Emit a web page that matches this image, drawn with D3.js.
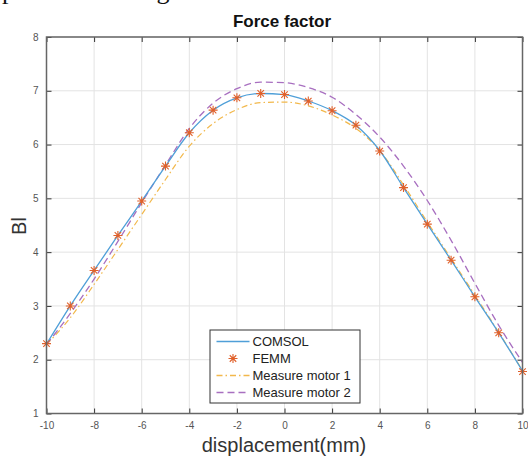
<!DOCTYPE html>
<html><head><meta charset="utf-8">
<script src="https://cdn.jsdelivr.net/npm/d3@7"></script>
<style>
html,body{margin:0;padding:0;background:#fff;}
svg{display:block;}
</style></head>
<body>
<script>
const xValues = [-10,-9,-8,-7,-6,-5,-4,-3,-2,-1,0,1,2,3,4,5,6,7,8,9,10];
const comsol = [2.29,3.0,3.66,4.31,4.95,5.60,6.22,6.64,6.87,6.95,6.93,6.81,6.63,6.36,5.89,5.20,4.52,3.85,3.17,2.50,1.79];
const femm   = [2.30,3.0,3.66,4.31,4.95,5.60,6.22,6.64,6.87,6.95,6.93,6.81,6.63,6.36,5.88,5.20,4.52,3.85,3.17,2.50,1.78];
const motor1 = [2.28,2.78,3.40,4.05,4.70,5.35,5.97,6.39,6.65,6.78,6.79,6.72,6.55,6.30,5.89,5.25,4.56,3.88,3.20,2.51,1.80];
const motor2 = [2.28,2.86,3.50,4.20,4.92,5.62,6.30,6.77,7.04,7.16,7.15,7.06,6.88,6.56,6.14,5.60,4.96,4.22,3.42,2.64,1.95];
const xTicks = [-10,-8,-6,-4,-2,0,2,4,6,8,10];
const yTicks = [1,2,3,4,5,6,7,8];
const seriesNames = ["COMSOL","FEMM","Measure motor 1","Measure motor 2"];

const W = 528, H = 459;
const m = {left:46.5, right:5.5, top:37, bottom:45.5};
const svg = d3.select("body").append("svg").attr("width",W).attr("height",H);

// clipped text at top of page (only its lower edge shows, as in the source)
svg.append("text").attr("x",2).attr("y",-1)
  .attr("font-family","Liberation Serif, Times New Roman, serif").attr("font-size",26)
  .attr("fill","#111").text("presented in Figure 6.");

const x = d3.scaleLinear().domain([-10,10]).range([m.left, W-m.right]);
const y = d3.scaleLinear().domain([1,8]).range([H-m.bottom, m.top]);
const fmt = d => String(d);

// grid
const g = svg.append("g");
g.selectAll("line.gx").data(xTicks).join("line")
  .attr("x1",d=>x(d)).attr("x2",d=>x(d)).attr("y1",y(1)).attr("y2",y(8))
  .attr("stroke","#e3e3e3").attr("stroke-width",1);
g.selectAll("line.gy").data(yTicks).join("line")
  .attr("y1",d=>y(d)).attr("y2",d=>y(d)).attr("x1",x(-10)).attr("x2",x(10))
  .attr("stroke","#e3e3e3").attr("stroke-width",1);

// axes
const xa = svg.append("g").attr("transform",`translate(0,${y(1)})`)
  .call(d3.axisBottom(x).tickValues(xTicks).tickFormat(fmt).tickSizeInner(-5).tickSizeOuter(0).tickPadding(8));
const xt = svg.append("g").attr("transform",`translate(0,${y(8)})`)
  .call(d3.axisTop(x).tickValues(xTicks).tickSizeInner(-5).tickSizeOuter(0).tickFormat(""));
const ya = svg.append("g").attr("transform",`translate(${x(-10)},0)`)
  .call(d3.axisLeft(y).tickValues(yTicks).tickFormat(fmt).tickSizeInner(-5).tickSizeOuter(0).tickPadding(8));
const yr = svg.append("g").attr("transform",`translate(${x(10)},0)`)
  .call(d3.axisRight(y).tickValues(yTicks).tickSizeInner(-5).tickSizeOuter(0).tickFormat(""));
[xa,xt,ya,yr].forEach(a=>{
  a.select(".domain").remove();
  a.selectAll("line").attr("stroke","#333").attr("stroke-width",1);
  a.selectAll("text").attr("fill","#555").attr("font-family","Liberation Sans, Arial, sans-serif").attr("font-size",10);
});

// series
const line = d3.line().x((d,i)=>x(xValues[i])).y(d=>y(d)).curve(d3.curveMonotoneX);
const smooth = d3.line().x((d,i)=>x(xValues[i])).y(d=>y(d)).curve(d3.curveBasis);
const cBlue = "#4f9fd8", cRed = "#e0602a", cOrange = "#f2b84b", cPurple = "#a86fc0";

svg.append("path").datum(motor1).attr("d",d3.line().x((d,i)=>x(xValues[i])).y(d=>y(d)).curve(d3.curveMonotoneX)).attr("fill","none")
  .attr("stroke",cOrange).attr("stroke-width",1.2).attr("stroke-dasharray","6,3,1.5,3");
svg.append("path").datum(motor2).attr("d",d3.line().x((d,i)=>x(xValues[i])).y(d=>y(d)).curve(d3.curveMonotoneX)).attr("fill","none")
  .attr("stroke",cPurple).attr("stroke-width",1.3).attr("stroke-dasharray","7,4");
svg.append("path").datum(comsol).attr("d",line).attr("fill","none")
  .attr("stroke",cBlue).attr("stroke-width",1.3);

function starPath(cx,cy,r){
  const d = r*0.72;
  return `M${cx-r},${cy}L${cx+r},${cy}M${cx},${cy-r}L${cx},${cy+r}`+
         `M${cx-d},${cy-d}L${cx+d},${cy+d}M${cx-d},${cy+d}L${cx+d},${cy-d}`;
}
svg.append("g").selectAll("path").data(femm).join("path")
  .attr("d",(d,i)=>starPath(x(xValues[i]),y(d),4.5))
  .attr("stroke",cRed).attr("stroke-width",1.1).attr("fill","none");

// box
svg.append("rect").attr("x",x(-10)).attr("y",y(8)).attr("width",x(10)-x(-10)).attr("height",y(1)-y(8))
  .attr("fill","none").attr("stroke","#666").attr("stroke-width",1.5);

// title & labels
svg.append("text").attr("x",282).attr("y",27).attr("text-anchor","middle")
  .attr("font-family","Liberation Sans, Arial, sans-serif").attr("font-weight","bold").attr("font-size",17)
  .attr("fill","#111").text("Force factor");
svg.append("text").attr("x",284).attr("y",452).attr("text-anchor","middle")
  .attr("font-family","Liberation Sans, Arial, sans-serif").attr("font-size",20)
  .attr("fill","#333").text("displacement(mm)");
svg.append("text").attr("transform","translate(26,226) rotate(-90)").attr("text-anchor","middle")
  .attr("font-family","Liberation Sans, Arial, sans-serif").attr("font-size",20)
  .attr("fill","#333").text("Bl");

// legend
const lg = svg.append("g");
lg.append("rect").attr("x",210).attr("y",330).attr("width",150).attr("height",73)
  .attr("fill","#fff").attr("stroke","#333").attr("stroke-width",1);
const ly = [341.5,358.5,375.5,392.5];
const ls = [{c:cBlue,dash:null},{c:cRed,star:true},{c:cOrange,dash:"6,3,1.5,3"},{c:cPurple,dash:"7,4"}];
seriesNames.forEach((n,i)=>{
  if(ls[i].star){
    lg.append("path").attr("d",starPath(233,ly[i],4.5)).attr("stroke",cRed).attr("stroke-width",1.1);
  } else {
    lg.append("line").attr("x1",216.5).attr("x2",249.5).attr("y1",ly[i]).attr("y2",ly[i])
      .attr("stroke",ls[i].c).attr("stroke-width",1.3).attr("stroke-dasharray",ls[i].dash);
  }
  lg.append("text").attr("x",252.5).attr("y",ly[i]+4.5)
    .attr("font-family","Liberation Sans, Arial, sans-serif").attr("font-size",13)
    .attr("fill","#222").text(n);
});
</script>
</body></html>
